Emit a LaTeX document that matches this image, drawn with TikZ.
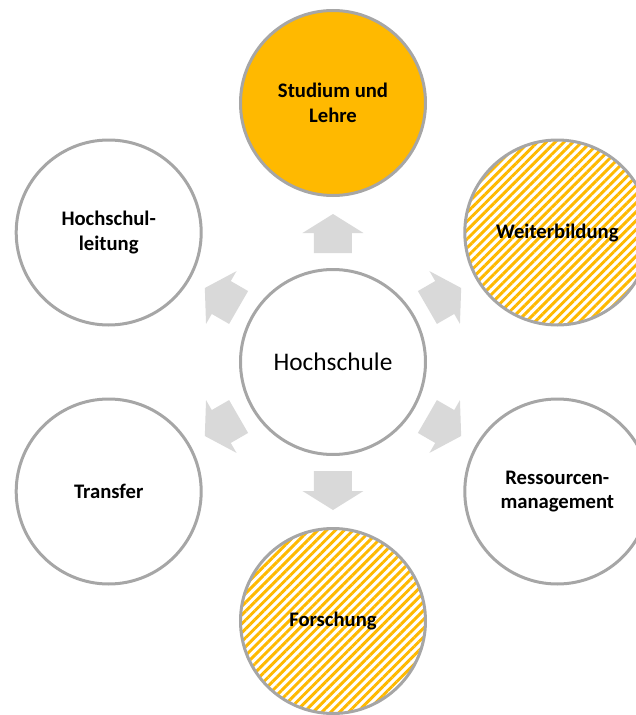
\documentclass[tikz,border=0pt]{standalone}
\usepackage{fontspec}
\setmainfont{Carlito}
\usetikzlibrary{patterns.meta}

\definecolor{gold}{RGB}{255,185,0}
\definecolor{rim}{RGB}{166,166,166}
\definecolor{pale}{RGB}{217,217,217}

\begin{document}
\begin{tikzpicture}[x=0.75pt, y=0.75pt,
  ring/.style={circle, draw=rim, line width=2.25pt, minimum size=138.75pt,
    inner sep=0pt, align=center, font=\fontsize{15.5}{18.5}\selectfont\bfseries},
  full/.style={ring, fill=gold},
  striped/.style={ring, pattern={Lines[angle=45,distance=4.7pt,line width=2.2pt]},
    pattern color=gold},
  flow/.style={fill=pale}]

\useasboundingbox (-333,-353) rectangle (303,362);

\node[ring, font=\fontsize{19}{22}\selectfont] (hs) at (0,0) {Hochschule};

\node[full] (lehre) at (90:259) {Studium und\\Lehre};
\node[striped] (weiter) at (30:259) {Weiterbildung};
\node[ring] (res) at (-30:259) {Ressourcen-\\management};
\node[striped] (forsch) at (-90:259) {Forschung};
\node[ring] (transfer) at (-150:259) {Transfer};
\node[ring] (leitung) at (150:259) {Hochschul-\\leitung};

% block arrows from the centre
\foreach \a in {90,30,-30,-90,-150,150}
  \fill[flow, rotate=\a] (109,-19) -- (129,-19) -- (129,-30.5) -- (148,0)
    -- (129,30.5) -- (129,19) -- (109,19) -- cycle;

\end{tikzpicture}
\end{document}
